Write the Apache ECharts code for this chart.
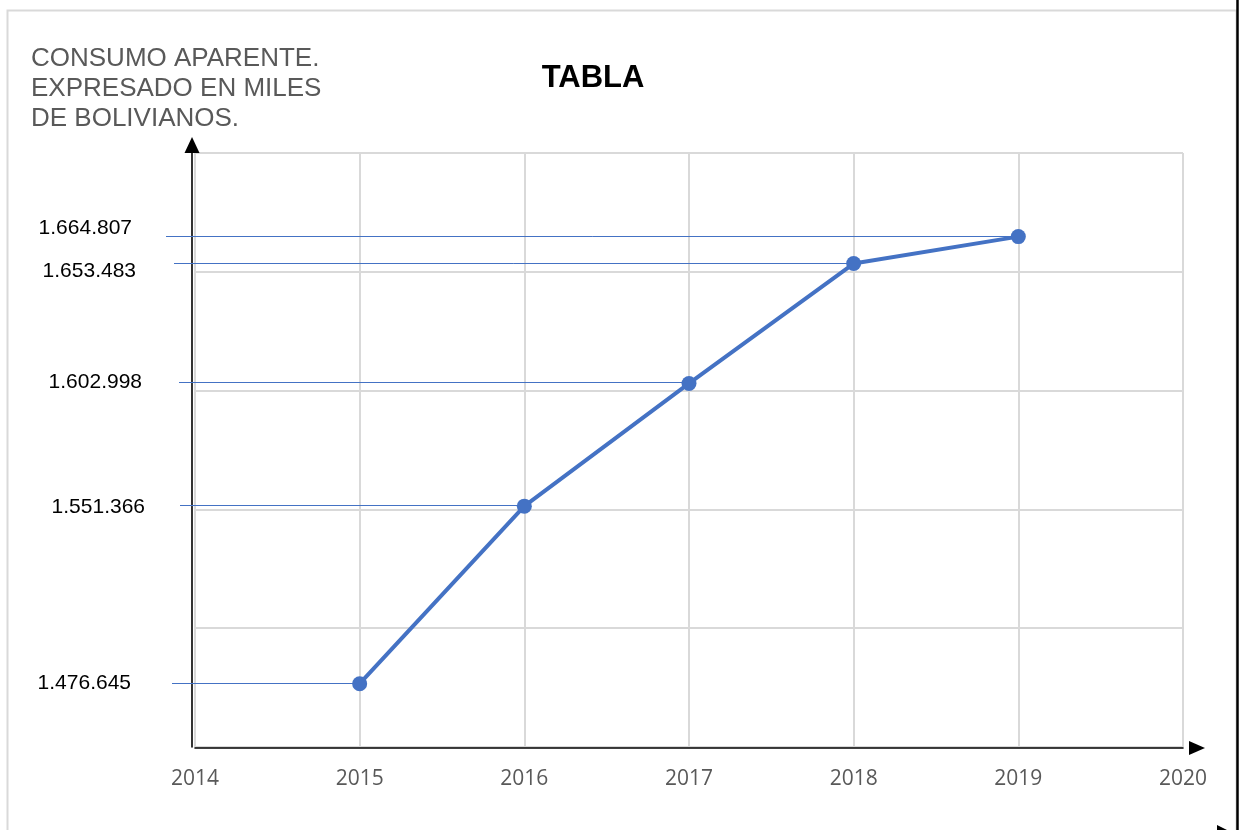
<!DOCTYPE html>
<html>
<head>
<meta charset="utf-8">
<title>TABLA</title>
<script src="https://cdn.jsdelivr.net/npm/echarts@6/dist/echarts.min.js"></script>
<style>
  html, body { margin: 0; padding: 0; background: #fff; }
  #chart { width: 1241px; height: 830px; }
</style>
</head>
<body>
<div id="chart"></div>
<script>
// ── data ──
const years  = [2015, 2016, 2017, 2018, 2019]
const values = [1476645, 1551366, 1602998, 1653483, 1664807]
const xRange = [2014, 2020]            // year axis, one tick per year
const yRange = [1450000, 1700000]      // hidden value axis
const yStep  = 50000

const COLOR_LINE = '#4472C4'
const COLOR_GRID = '#d9d9d9'
const COLOR_TEXT = '#595959'

// hand-placed annotation tweaks (px), same order as years
const LEAD_FROM   = [172, 180, 179, 174, 166]
const LABEL_RIGHT = [131, 145, 142, 136, 132]
const LABEL_DY    = [0, 1, -1, 8, -8.5]

// 1476645 -> "1.476.645"
const fmt = v => String(v).replace(/\B(?=(\d{3})+(?!\d))/g, '.')

const points = years.map((y, i) => [y, values[i]])

const chart = echarts.init(document.getElementById('chart'))

chart.setOption({
  animation: false,
  backgroundColor: '#fff',
  grid: { left: 195, right: 58, top: 153, bottom: 83 },
  xAxis: {
    type: 'value',
    min: xRange[0], max: xRange[1], interval: 1,
    offset: 1,
    z: 3,
    axisLine: {
      show: true,
      symbol: ['none', 'triangle'],
      symbolSize: [14, 16],
      symbolOffset: [0, 14],
      lineStyle: { color: '#000', width: 1.6 },
    },
    axisTick: { show: false },
    axisLabel: {
      margin: 21,
      color: COLOR_TEXT,
      fontSize: 21,
      fontFamily: '"Open Sans", sans-serif',
      formatter: v => String(v),
    },
    splitLine: { show: true, lineStyle: { color: COLOR_GRID, width: 2 } },
  },
  yAxis: {
    type: 'value',
    min: yRange[0], max: yRange[1], interval: yStep,
    offset: 3,
    z: 2,
    axisLine: {
      show: true,
      symbol: ['none', 'triangle'],
      symbolSize: [15, 16],
      symbolOffset: [0, 8],
      lineStyle: { color: '#000', width: 1.6 },
    },
    axisTick: { show: false },
    axisLabel: { show: false },
    splitLine: { show: true, lineStyle: { color: COLOR_GRID, width: 2 } },
  },
  graphic: [
    // outer frame
    {
      type: 'rect', silent: true, z: -1,
      shape: { x: 7.5, y: 10.5, width: 1229, height: 900 },
      style: { fill: 'none', stroke: COLOR_GRID, lineWidth: 2 },
    },
    {
      type: 'line', silent: true,
      shape: { x1: 1237.5, y1: 0, x2: 1237.5, y2: 830 },
      style: { stroke: '#000', lineWidth: 2.5 },
    },
    {
      type: 'polygon', silent: true,
      shape: { points: [[1217, 825], [1227, 830], [1217, 830]] },
      style: { fill: '#000' },
    },
    {
      type: 'text', silent: true, x: 593, y: 78,
      style: {
        text: 'TABLA', align: 'center', verticalAlign: 'middle',
        font: 'bold 31px "Liberation Sans", Arial, sans-serif', fill: '#000',
      },
    },
    {
      type: 'text', silent: true, x: 31, y: 88.5,
      style: {
        text: 'CONSUMO APARENTE.\nEXPRESADO EN MILES\nDE BOLIVIANOS.',
        align: 'left', verticalAlign: 'middle', lineHeight: 30,
        font: '26px "Liberation Sans", Arial, sans-serif', fill: COLOR_TEXT,
      },
    },
  ],
  series: [
    // leader lines + value labels drawn by hand on the original
    {
      type: 'custom',
      coordinateSystem: 'cartesian2d',
      data: points,
      encode: { x: 0, y: 1 },
      silent: true,
      z: 3,
      renderItem(params, api) {
        const i = params.dataIndex
        const p = api.coord([api.value(0), api.value(1)])
        const ly = Math.round(p[1]) - 0.5
        return {
          type: 'group',
          children: [
            {
              type: 'line',
              shape: { x1: LEAD_FROM[i], y1: ly, x2: p[0], y2: ly },
              style: { stroke: COLOR_LINE, lineWidth: 1 },
            },
            {
              type: 'text',
              style: {
                text: fmt(values[i]),
                x: LABEL_RIGHT[i], y: p[1] + LABEL_DY[i],
                align: 'right', verticalAlign: 'middle',
                font: '21px "Liberation Sans", Arial, sans-serif', fill: '#000',
              },
            },
          ],
        }
      },
    },
    {
      type: 'line',
      data: points,
      z: 5,
      symbol: 'circle',
      symbolSize: 15,
      lineStyle: { color: COLOR_LINE, width: 4 },
      itemStyle: { color: COLOR_LINE },
    },
  ],
})
</script>
</body>
</html>
